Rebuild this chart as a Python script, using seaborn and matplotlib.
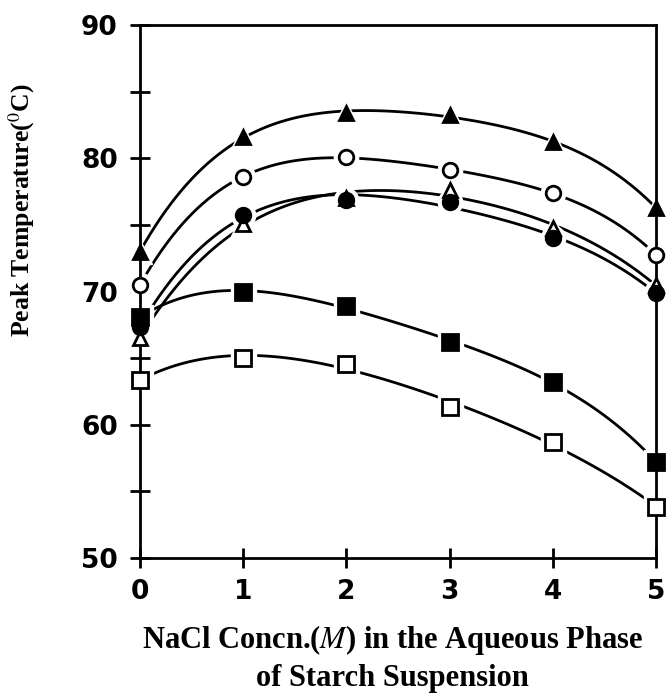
import numpy as np
import matplotlib
matplotlib.use("Agg")
import matplotlib.pyplot as plt
import seaborn as sns

sns.set_style("white")
plt.rcParams['mathtext.fontset'] = 'stix'
plt.rcParams['text.color'] = 'black'
plt.rcParams['axes.labelcolor'] = 'black'
plt.rcParams['xtick.color'] = 'black'
plt.rcParams['ytick.color'] = 'black'

conc = [0, 1, 2, 3, 4, 5]
filled_triangle = [73.0, 81.6, 83.4, 83.25, 81.2, 76.3]
open_circle = [70.5, 78.6, 80.1, 79.1, 77.4, 72.75]
open_triangle = [66.5, 75.1, 77.0, 77.6, 74.8, 70.5]
filled_circle = [67.35, 75.75, 76.9, 76.7, 74.0, 69.9]
filled_square = [68.1, 70.0, 68.9, 66.2, 63.2, 57.2]
open_square = [63.4, 65.0, 64.6, 61.35, 58.7, 53.85]

series = [
    (filled_triangle, '^', 'black'),
    (open_circle, 'o', 'white'),
    (open_triangle, '^', 'white'),
    (filled_circle, 'o', 'black'),
    (filled_square, 's', 'black'),
    (open_square, 's', 'white'),
]

fig = plt.figure(figsize=(6.68, 6.95), dpi=100)
ax = fig.add_axes([0.2096, 0.197, 0.7724, 0.767])

for vals, mk, fc in series:
    sns.regplot(x=np.array(conc, float), y=np.array(vals), order=4, ci=None,
                scatter=False, truncate=True, ax=ax,
                line_kws=dict(color='black', lw=2.0, zorder=2, clip_on=False))
for vals, mk, fc in series:
    ms = 11 if mk == 's' else 10.5
    ax.plot(conc, vals, ls='none', marker=mk, ms=ms + 7, mfc='white', mec='white',
            zorder=2.2, clip_on=False)
for vals, mk, fc in series:
    ms = 11 if mk == 's' else 10.5
    ax.plot(conc, vals, ls='none', marker=mk, ms=ms, mfc=fc, mec='black', mew=2.0,
            zorder=4, clip_on=False)

ax.set_xlim(0, 5)
ax.set_ylim(50, 90)
ax.set_xticks([0, 1, 2, 3, 4, 5])
ax.set_yticks([50, 60, 70, 80, 90])
ax.set_yticks([55, 65, 75, 85], minor=True)
ax.tick_params(axis='both', which='both', direction='inout', width=2, length=14,
               labelsize=19, color='black', labelcolor='black',
               bottom=True, left=True, pad=8)
ax.tick_params(axis='y', which='major', pad=9)
ax.tick_params(axis='y', which='minor', length=14)
for lab in ax.get_xticklabels() + ax.get_yticklabels():
    lab.set_fontweight('bold')
for s in ax.spines.values():
    s.set_visible(True)
    s.set_color('black')
    s.set_linewidth(2.0)
    s.set_zorder(2.5)

ax.set_xlabel("NaCl Concn.($\\mathit{M}$) in the Aqueous Phase\nof Starch Suspension",
              fontsize=22, fontweight='bold', family='Liberation Serif',
              linespacing=1.3)
ax.xaxis.label.set_verticalalignment('bottom')
ax.xaxis.set_label_coords(0.587, 0.003, transform=fig.transFigure)
ax.set_ylabel("Peak Temperature($^{0}$C)", fontsize=18.5, fontweight='bold',
              family='Liberation Serif')
ax.yaxis.set_label_coords(-0.2, 0.653, transform=ax.transAxes)

fig.savefig("out.png", dpi=100)
